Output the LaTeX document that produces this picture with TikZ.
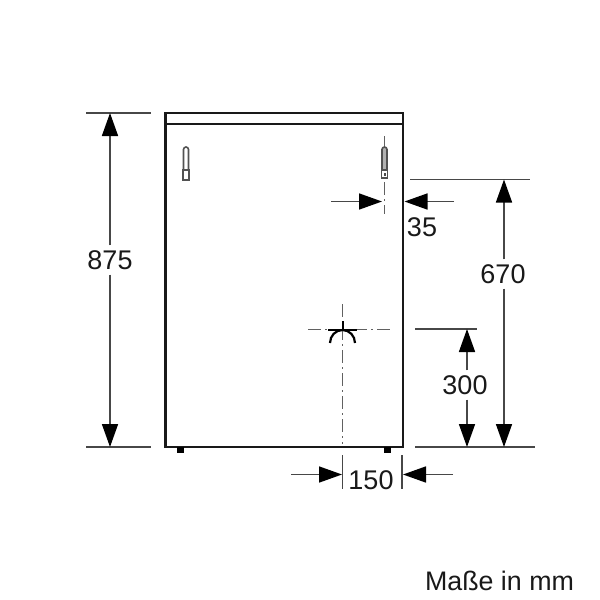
\documentclass[tikz,border=0pt]{standalone}
\usepackage{fontspec}
\setmainfont{Liberation Sans}
\usetikzlibrary{arrows.meta}
\tikzset{
  cabinet/.style={draw=black!90,line width=2.2pt},
  dimline/.style={draw=black!72,line width=1.6pt},
  dimarrow/.style={draw=black!72,line width=1.6pt,-{Triangle[length=23pt,width=16pt,fill=black,color=black]}},
  centre/.style={draw=black!62,line width=1.7pt,dash pattern=on 13pt off 4pt on 2pt off 4pt},
  plugbody/.style={draw=black!68,line width=1.6pt,fill=white},
  label/.style={font=\fontsize{27}{27}\selectfont,text=black!90,inner sep=1pt,outer sep=4pt},
  note/.style={font=\fontsize{26.8}{27}\selectfont,text=black!90,inner sep=1pt},
  foot/.style={fill=black,draw=none}
}
\begin{document}
\begin{tikzpicture}[x=1pt,y=-1pt]
\useasboundingbox[fill=white] (0,0) rectangle (600,600);
% cabinet
\draw[cabinet] (165.5,113) rectangle (403,447);
\draw[cabinet,line width=1.8pt] (165.5,124) -- (403,124);
\fill[foot] (177,447) rectangle (184,453);
\fill[foot] (384,447) rectangle (391,453);
% left plug
\draw[plugbody] (183.5,170) -- (183.5,149.5) arc[start angle=180,end angle=360,radius=2.5] -- (188.5,170);
\draw[plugbody] (183,170) rectangle (189,180);
% right plug and its centre line
\coordinate (rt) at (384.5,136);
\coordinate (rb) at (384.5,214);
\draw[centre] (rt) -- (rb);
\draw[plugbody,fill=black!30] (382,170) -- (382,149.5) arc[start angle=180,end angle=360,radius=2.5] -- (387,170);
\draw[plugbody] (381.5,170) rectangle (387.5,178);
\fill[black!70] (383.5,172.5) rectangle (385.5,175.5);
% drain
\coordinate (dt) at (342.5,304);
\coordinate (db) at (342.5,444);
\coordinate (dl) at (308,329.5);
\coordinate (dr) at (393,329.5);
\draw[centre] (dt) -- (db);
\draw[centre] (dl) -- (dr);
\draw[black,line width=2pt] (328,329.5) -- (357,329.5);
\draw[black,line width=2pt] (342.5,321) -- (342.5,330);
\draw[black,line width=2.2pt] (330,343) arc[start angle=180,end angle=360,x radius=12.5,y radius=13];
% 875
\coordinate (a1) at (86,113); \coordinate (a2) at (151,113);
\coordinate (a3) at (86,447); \coordinate (a4) at (151,447);
\draw[dimline] (a1) -- (a2);
\draw[dimline] (a3) -- (a4);
\node[label] (t875) at (110,260) {875};
\coordinate (a5) at (110,113); \coordinate (a6) at (110,447);
\draw[dimarrow] (t875.north) -- (a5);
\draw[dimarrow] (t875.south) -- (a6);
% 670
\coordinate (b1) at (410,179.5); \coordinate (b2) at (530,179.5);
\coordinate (b3) at (415,447); \coordinate (b4) at (535,447);
\draw[dimline] (b1) -- (b2);
\draw[dimline] (b3) -- (b4);
\node[label] (t670) at (503,274) {670};
\coordinate (b5) at (504,179.5); \coordinate (b6) at (504,447);
\draw[dimarrow] (t670.north -| b5) -- (b5);
\draw[dimarrow] (t670.south -| b6) -- (b6);
% 300
\coordinate (c1) at (415,329); \coordinate (c2) at (477,329);
\draw[dimline] (c1) -- (c2);
\node[label] (t300) at (465,385) {300};
\coordinate (c5) at (467,329); \coordinate (c6) at (467,447);
\draw[dimarrow] (t300.north -| c5) -- (c5);
\draw[dimarrow] (t300.south -| c6) -- (c6);
% 35
\node[label] (t35) at (422,227) {35};
\coordinate (d1) at (331,201.5); \coordinate (d2) at (382,201.5);
\coordinate (d3) at (454,201.5); \coordinate (d4) at (404.5,201.5);
\draw[dimarrow] (d1) -- (d2);
\draw[dimarrow] (d3) -- (d4);
% 150
\coordinate (e1) at (342.5,455); \coordinate (e2) at (342.5,489);
\coordinate (e3) at (402,455); \coordinate (e4) at (402,489);
\draw[dimline] (e1) -- (e2);
\draw[dimline] (e3) -- (e4);
\node[label] (t150) at (371,480) {150};
\coordinate (f1) at (291,474.5); \coordinate (f2) at (342,474.5);
\coordinate (f3) at (453,474.5); \coordinate (f4) at (403,474.5);
\draw[dimarrow] (f1) -- (f2);
\draw[dimarrow] (f3) -- (f4);
% note
\node[note] (note) at (499.5,581) {Maße in mm};
\end{tikzpicture}
\end{document}
